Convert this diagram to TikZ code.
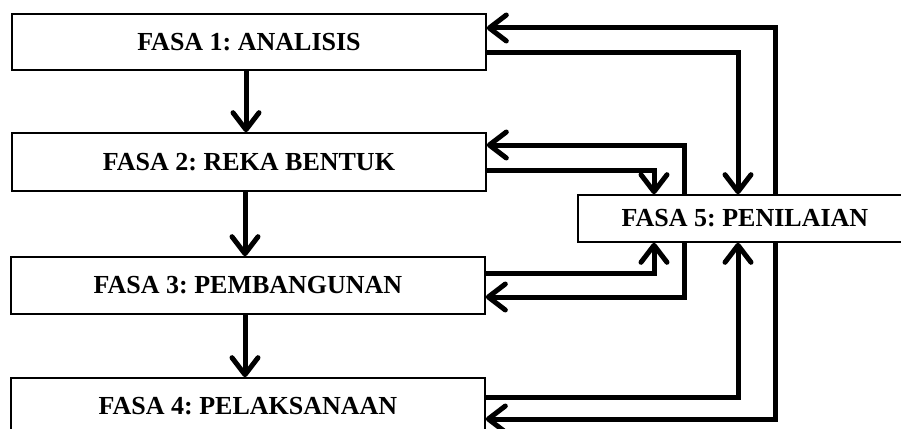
\documentclass[tikz,border=0pt]{standalone}
\usepackage{fontspec}
\setmainfont{Liberation Serif}
\usetikzlibrary{arrows.meta}
\frenchspacing
\begin{document}
\begin{tikzpicture}[x=1pt,y=-1pt,
  phase/.style={draw=black,line width=1.6pt,fill=white,rectangle,inner sep=0pt,
    font=\fontsize{26}{30}\selectfont\bfseries\frenchspacing},
  flow/.style={line width=5pt,line join=miter,
    -{Straight Barb[length=17pt,width=26pt,round]}}]
\useasboundingbox (0,0) rectangle (901,428);
\clip (0,0) rectangle (901,428);
\fill[white] (0,0) rectangle (901,428);
\node[phase,minimum width=474pt,minimum height=56pt] (b1) at (249,42) {FASA 1: ANALISIS};
\node[phase,minimum width=474pt,minimum height=58pt] (b2) at (249,162) {FASA 2: REKA BENTUK};
\node[phase,minimum width=474pt,minimum height=57pt] (b3) at (248,285.5) {FASA 3: PEMBANGUNAN};
\node[phase,minimum width=474pt,minimum height=57pt] (b4) at (248,406.5) {FASA 4: PELAKSANAAN};
\node[phase,minimum width=334pt,minimum height=47pt] (b5) at (745,218.5) {FASA 5: PENILAIAN};
\coordinate (xA) at (654,0);
\coordinate (xB) at (684,0);
\coordinate (xC) at (738,0);
\coordinate (xD) at (775,0);
% vertical flow
\draw[flow] ([xshift=-3pt]b1.south) -- ([xshift=-3pt]b1.south |- b2.north);
\draw[flow] ([xshift=-4pt]b2.south) -- ([xshift=-4pt]b2.south |- b3.north);
\draw[flow] ([xshift=-3pt]b3.south) -- ([xshift=-3pt]b3.south |- b4.north);
% phase 1 loop
\draw[flow] (xD |- b5.north) |- ([yshift=14pt]b1.east);
\draw[flow] ([yshift=-11pt]b1.east) -| (xC |- b5.north);
% phase 2 loop
\draw[flow] (xB |- b5.north) |- ([yshift=17pt]b2.east);
\draw[flow] ([yshift=-8pt]b2.east) -| (xA |- b5.north);
% phase 3 loop
\draw[flow] ([yshift=12.5pt]b3.east) -| (xA |- b5.south);
\draw[flow] (xB |- b5.south) |- ([yshift=-11.5pt]b3.east);
% phase 4 loop
\draw[flow] ([yshift=9.5pt]b4.east) -| (xC |- b5.south);
\draw[flow] (xD |- b5.south) |- ([yshift=-12.5pt]b4.east);
\end{tikzpicture}
\end{document}
